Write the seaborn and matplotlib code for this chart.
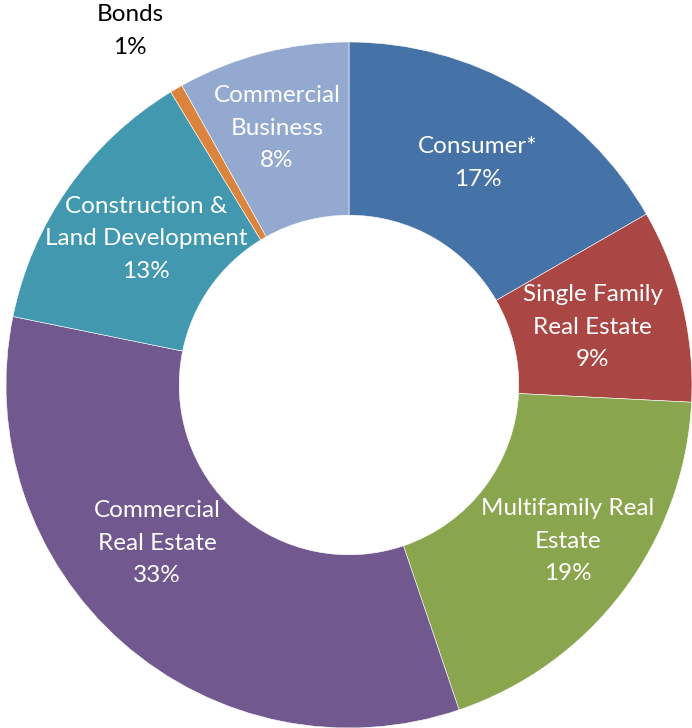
import matplotlib.pyplot as plt
import seaborn as sns

sns.set_theme(style='white')
plt.rcParams['font.family'] = ['Lato', 'DejaVu Sans']

categories = ["Consumer*", "Single Family\nReal Estate", "Multifamily Real\nEstate",
              "Commercial\nReal Estate", "Construction &\nLand Development", "Bonds",
              "Commercial\nBusiness"]
shares = [16.7, 9.1, 19.0, 33.4, 13.1, 0.6, 8.1]
pct_labels = ["17%", "9%", "19%", "33%", "13%", "1%", "8%"]
colors = ["#4572A7", "#AA4643", "#89A54E", "#71588F", "#4198AF", "#DB843D", "#93A9CF"]

fig = plt.figure(figsize=(6.92, 7.28), dpi=100)
ax = fig.add_axes([0, 0, 1, 1])

wedges, _ = ax.pie(shares, colors=colors, startangle=90, counterclock=False,
                   radius=1.0, wedgeprops=dict(width=0.505, edgecolor='white', linewidth=0.4))

# label centres (data coords, radius 1 = 343 px)
label_pos = [(0.376, 0.647), (0.711, 0.169), (0.638, -0.455), (-0.560, -0.461),
             (-0.592, 0.426), (-0.638, 1.032), (-0.210, 0.749)]
for i, (x, y) in enumerate(label_pos):
    col = 'black' if categories[i] == "Bonds" else 'white'
    ax.text(x, y, categories[i] + "\n" + pct_labels[i], ha='center', va='center',
            color=col, fontsize=17.5, linespacing=1.68)

ax.set_xlim(-349 / 343, 343 / 343)
ax.set_ylim(-343 / 343, 385 / 343)
ax.set_aspect('auto')
ax.axis('off')

fig.savefig("out.png", dpi=100)
